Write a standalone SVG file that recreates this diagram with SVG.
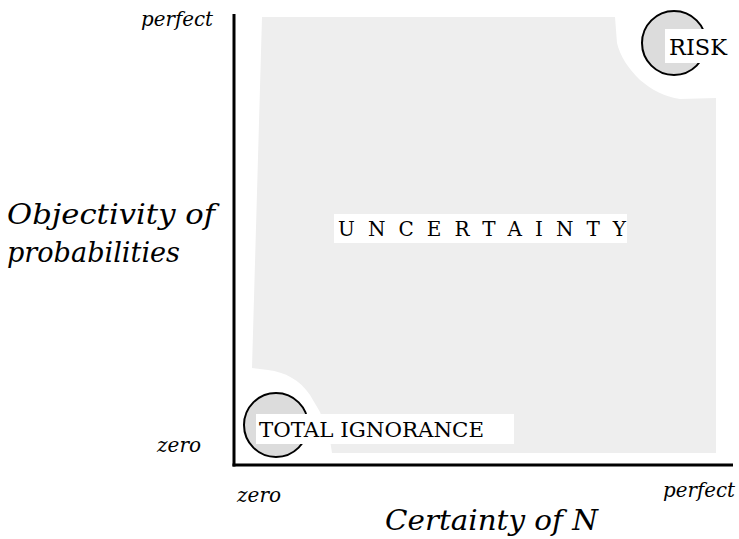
<svg xmlns="http://www.w3.org/2000/svg" width="739" height="539" viewBox="0 0 739 539">
  <style>
    .axis { stroke: #000; stroke-width: 3; fill: none; }
    .region { fill: #eeeeee; stroke: none; }
    .zone { fill: #dcdcdc; stroke: #000; stroke-width: 2; }
    .tag { fill: #ffffff; stroke: none; }
    text { font-family: "DejaVu Serif", serif; fill: #000; }
    .it { font-style: italic; }
  </style>

  <!-- shaded uncertainty region -->
  <g id="uncertainty-region">
    <path class="region" d="M262,17 L615,17 L617,43 C620,56 628,68 640,80 C652,90 665,97 680,99 L716,98 L716,453 L332,453 L330,440 L320,412 L310,395 C300,380 285,372 268,370 L252,368 Z"/>
  </g>

  <!-- axes -->
  <g id="connectors">
    <line class="axis" x1="234" y1="14" x2="234" y2="466.5"/>
    <line class="axis" x1="232.5" y1="465" x2="733" y2="465"/>
  </g>

  <g id="risk">
    <circle class="zone" cx="674" cy="43" r="32"/>
    <rect class="tag" x="665" y="29" width="66" height="34"/>
    <text x="669" y="55" font-size="23" textLength="58" lengthAdjust="spacingAndGlyphs">RISK</text>
  </g>

  <g id="total-ignorance">
    <circle class="zone" cx="276" cy="425" r="32"/>
    <rect class="tag" x="256" y="414" width="258" height="30"/>
    <text x="259" y="437" font-size="21" textLength="225" lengthAdjust="spacingAndGlyphs">TOTAL IGNORANCE</text>
  </g>

  <g id="uncertainty">
    <rect class="tag" x="334" y="214" width="293" height="29"/>
    <text x="338" y="236" font-size="20" textLength="288" lengthAdjust="spacing">UNCERTAINTY</text>
  </g>

  <!-- axis captions -->
  <g id="y-axis-labels">
    <text class="it" x="141" y="26" font-size="21" textLength="72" lengthAdjust="spacingAndGlyphs">perfect</text>
    <text class="it" x="7" y="224" font-size="28" textLength="208" lengthAdjust="spacingAndGlyphs">Objectivity of</text>
    <text class="it" x="7" y="262" font-size="28" textLength="173" lengthAdjust="spacingAndGlyphs">probabilities</text>
    <text class="it" x="157" y="452" font-size="21" textLength="44" lengthAdjust="spacingAndGlyphs">zero</text>
  </g>
  <g id="x-axis-labels">
    <text class="it" x="237" y="502" font-size="21" textLength="44" lengthAdjust="spacingAndGlyphs">zero</text>
    <text class="it" x="663" y="497" font-size="21" textLength="72" lengthAdjust="spacingAndGlyphs">perfect</text>
    <text class="it" x="385" y="530" font-size="28" textLength="213" lengthAdjust="spacingAndGlyphs">Certainty of N</text>
  </g>
</svg>
